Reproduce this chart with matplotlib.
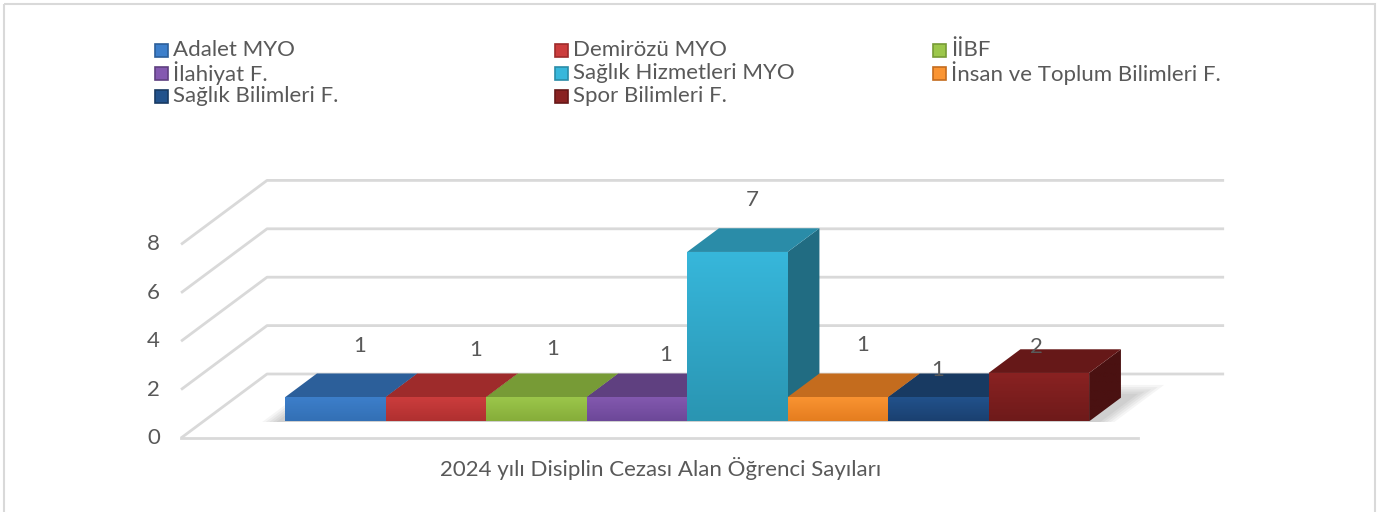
import numpy as np
import matplotlib
matplotlib.use("Agg")
import matplotlib.pyplot as plt
from matplotlib.patches import Polygon, Rectangle
from matplotlib.colors import LinearSegmentedColormap

plt.rcParams['font.family'] = ['Lato', 'DejaVu Sans']

# data
categories = ["Adalet MYO", "Demirözü MYO", "İİBF", "İlahiyat F.",
              "Sağlık Hizmetleri MYO", "İnsan ve Toplum Bilimleri F.",
              "Sağlık Bilimleri F.", "Spor Bilimleri F."]
values = [1, 1, 1, 1, 7, 1, 1, 2]
y_ticks = [0, 2, 4, 6, 8]
axis_title = "2024 yılı Disiplin Cezası Alan Öğrenci Sayıları"

# colours (front top, front bottom, top face, side face)
front_light = ["#3d7fcb", "#cc3d3d", "#9cc74b", "#8459b0", "#37b7db", "#fa9432", "#22528c", "#8a2222"]
front_dark = ["#3370b5", "#b03030", "#86ad3a", "#6c4898", "#2a95b2", "#e57d1f", "#1a4070", "#6e1a1a"]
top_col = ["#2c5f9a", "#9e2b2b", "#779b36", "#5f4080", "#2a8ca8", "#c46c1e", "#183a62", "#661818"]
side_col = ["#234c7c", "#7e2222", "#5f7c2b", "#4c3366", "#216c82", "#9d5618", "#13304f", "#4a1111"]

# where Excel dropped the value labels (pixels, relative to top-back centre)
label_offsets = [(-8, 27), (8, 23), (-16, 24), (-3, 18), (-17, 28), (-7, 28), (-33, 3), (-34, 2)]

text_col = "#595959"
grid_col = "#d9d9d9"
fs = 16

W, H = 1380, 512
fig = plt.figure(figsize=(W / 100, H / 100), dpi=100)
ax = fig.add_axes([0, 0, 1, 1])
ax.axis('off')

# pixel scale of the chart: one category per 100.5 px, one unit per 24.2 px
px_cat, px_val = 100.5, 24.2
x0_px, y0_px = 313, H - 438
DX, DY = 86 / px_cat, 64 / px_val          # full depth of the floor
zf, zb = 0.26, 0.63                          # bar depth range
xl, xr = -1.313, 8.21                       # floor extent


def proj(x, v, z):
    return (x + z * DX, v + z * DY)


# walls / gridlines
for t in y_ticks:
    p0 = proj(xl, t, 0)
    p1 = proj(xl, t, 1)
    p2 = proj(xr, t, 1)
    ax.plot([p0[0], p1[0], p2[0]], [p0[1], p1[1], p2[1]], color=grid_col, lw=2, zorder=1,
            solid_capstyle='butt')
    ax.annotate(str(t), xy=p0, xytext=(-21, 0), textcoords='offset pixels',
                ha='right', va='center', fontsize=fs, color=text_col)
f0, f1 = proj(xl, 0, 0), proj(xr, 0, 0)
ax.plot([f0[0], f1[0]], [f0[1], f1[1]], color=grid_col, lw=2, zorder=1)

# soft shadow on the floor
n = len(values)
for k in range(5):
    e = 0.035 * k
    sh = [proj(-0.58 - e, 0, zf - 0.01), proj(n - 0.5 + 0.12 + e, 0, zf - 0.01),
          proj(n - 0.5 + 0.12 + e, 0, zb + 0.06 + e), proj(-0.58 - e, 0, zb + 0.06 + e)]
    ax.add_patch(Polygon(sh, closed=True, facecolor='#000000', alpha=0.04,
                         edgecolor='none', zorder=2))


def grad_poly(verts, c_top, c_bot, z):
    poly = Polygon(verts, closed=True, facecolor='none', edgecolor='none', zorder=z)
    ax.add_patch(poly)
    xs = [p[0] for p in verts]
    ys = [p[1] for p in verts]
    cmap = LinearSegmentedColormap.from_list('g', [c_bot, c_top])
    img = ax.imshow(np.linspace(0, 1, 64).reshape(-1, 1), cmap=cmap, origin='lower',
                    extent=(min(xs), max(xs), min(ys), max(ys)), aspect='auto',
                    interpolation='bilinear', zorder=z)
    img.set_clip_path(poly)


# bars, left to right so the right neighbour hides the side face
for i, v in enumerate(values):
    z = 3 + i
    a, b = i - 0.5, i + 0.5
    front = [proj(a, 0, zf), proj(b, 0, zf), proj(b, v, zf), proj(a, v, zf)]
    top = [proj(a, v, zf), proj(b, v, zf), proj(b, v, zb), proj(a, v, zb)]
    side = [proj(b, 0, zf), proj(b, v, zf), proj(b, v, zb), proj(b, 0, zb)]
    grad_poly(side, side_col[i], side_col[i], z)
    ax.add_patch(Polygon(top, closed=True, facecolor=top_col[i], edgecolor='none', zorder=z))
    grad_poly(front, front_light[i], front_dark[i], z + 0.1)

# value labels
for i, v in enumerate(values):
    ax.annotate(str(v), xy=proj(i, v, zb), xytext=label_offsets[i], textcoords='offset pixels',
                ha='center', va='center', fontsize=fs, color=text_col, zorder=20)

ax.set_xlim(-x0_px / px_cat, (W - x0_px) / px_cat)
ax.set_ylim(-y0_px / px_val, (H - y0_px) / px_val)

# overlay in pixel coordinates for frame, legend and axis title
lax = fig.add_axes([0, 0, 1, 1])
lax.set_xlim(0, W)
lax.set_ylim(H, 0)
lax.axis('off')
lax.patch.set_alpha(0)

lax.add_patch(Rectangle((4, 4), W - 9, H + 10, facecolor='none', edgecolor=grid_col, lw=1.5))

col_x = [155, 555, 933]
row_y = [50, 73, 96]
for k, name in enumerate(categories):
    r, c = divmod(k, 3)
    x, y = col_x[c], row_y[r]
    lax.add_patch(Rectangle((x, y - 6.5), 13, 13, facecolor=front_light[k],
                            edgecolor=top_col[k], lw=1.2))
    lax.text(x + 18, y, name, ha='left', va='center', fontsize=fs, color=text_col)

lax.text(661, 469, axis_title, ha='center', va='center', fontsize=fs, color=text_col)

fig.savefig("out.png", dpi=100)
